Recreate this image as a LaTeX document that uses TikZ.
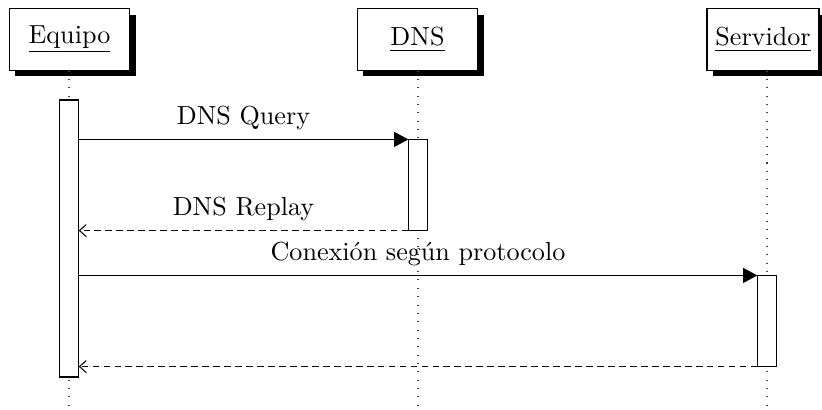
\documentclass[tikz,border=0pt]{standalone}
\usepackage{fontspec}
\usetikzlibrary{arrows.meta,shadows}
\begin{document}
\begin{tikzpicture}[x=0.383pt,y=-0.383pt,
  instance/.style={draw, fill=white, minimum height=23.4pt, inner sep=0pt,
    drop shadow={shadow xshift=2.3pt, shadow yshift=-2.3pt, fill=black, opacity=1}},
  lifeline/.style={dash pattern=on 0.4pt off 2.8pt, line width=0.4pt, black!75},
  activation/.style={draw, fill=white, inner sep=0pt, minimum width=7pt},
  call/.style={-{Triangle[length=5.4pt,width=5.7pt]}},
  reply/.style={dash pattern=on 2.6pt off 1.6pt, -{Straight Barb[length=2.6pt,width=4.6pt]}},
  msglabel/.style={anchor=base, yshift=5.6pt, inner sep=0pt}]
\useasboundingbox (0,0) rectangle (822,410);

% instances
\node[instance, minimum width=46.3pt] (equipo) at (69.5,39.5) {\underline{Equipo}};
\node[instance, minimum width=46.3pt] (dns) at (417.5,39.5) {\underline{DNS}};
\node[instance, minimum width=42.9pt] (servidor) at (763,39.5) {\underline{Servidor}};

% lifelines
\coordinate (endA) at (69,410);
\coordinate (endB) at (418,410);
\coordinate (endC) at (767,410);
\draw[lifeline] (equipo.south -| endA) -- (endA);
\draw[lifeline] (dns.south -| endB) -- (endB);
\draw[lifeline] (servidor.south -| endC) -- (endC);

% activations
\node[activation, minimum height=106.1pt] (actA) at (69,238.5) {};
\node[activation, minimum height=34.5pt] (actB) at (418,185) {};
\node[activation, minimum height=34.5pt] (actC) at (767,321) {};

% messages
\draw[call] (actA.east |- actB.north west) -- node[msglabel] {DNS Query} (actB.north west);
\draw[reply] (actB.south west) -- node[msglabel] {DNS Replay} (actA.east |- actB.south west);
\draw[call] (actA.east |- actC.north west) -- node[msglabel] {Conexión según protocolo} (actC.north west);
\draw[reply] (actC.south west) -- (actA.east |- actC.south west);
\end{tikzpicture}
\end{document}
